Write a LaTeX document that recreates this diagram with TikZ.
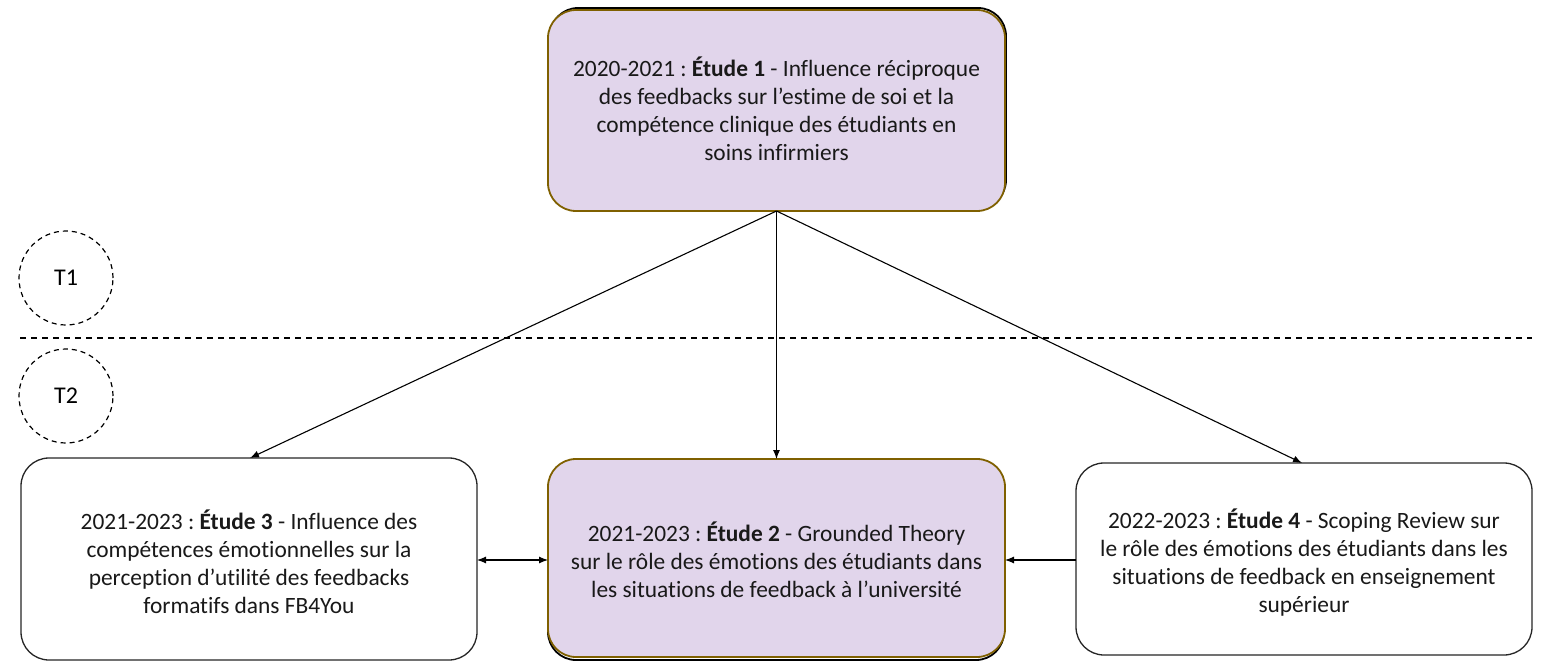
\documentclass[tikz,border=0pt]{standalone}
\usepackage{fontspec}
\setmainfont{Carlito}[Ligatures={NoCommon}]
\usetikzlibrary{arrows.meta}
\definecolor{lilac}{HTML}{E1D5EB}
\definecolor{olive}{HTML}{7F6000}
\begin{document}
\frenchspacing
\begin{tikzpicture}[x=1pt,y=-1pt,
  txt/.style={font=\frenchspacing\fontsize{23.4}{28}\selectfont, align=center, text=black!90},
  studybox/.style={draw=olive, line width=1.8pt, fill=lilac, rounded corners=28pt},
  plainbox/.style={draw=black!85, line width=1.3pt, fill=white, rounded corners=28pt},
  shadowbox/.style={draw=black, line width=1.8pt, rounded corners=28pt},
  tip/.style={},
  conn/.style={line width=1.1pt, -{Latex[length=9pt,width=7pt]}},
  tcircle/.style={circle, draw, line width=1.2pt, dash pattern=on 5pt off 4pt, minimum size=94pt, inner sep=0pt, font=\fontsize{24}{28}\selectfont}
]
\useasboundingbox (0,0) rectangle (1545,661);
% shadows
\draw[shadowbox] (550,8) rectangle (1006,208);
\draw[shadowbox] (548,462) rectangle (1004,660);
% boxes
\draw[studybox] (548,10) rectangle (1005,211);
\node[txt] (e1) at (776.5,109) {2020-2021 : \textbf{Étude 1} - Influence réciproque\\des feedbacks sur l’estime de soi et la\\compétence clinique des étudiants en\\soins infirmiers};
\coordinate (e1b) at (776.5,211);
\draw[studybox] (548,459) rectangle (1005,657);
\node[txt] (e2) at (776.5,560) {2021-2023 : \textbf{Étude 2} - Grounded Theory\\sur le rôle des émotions des étudiants dans\\les situations de feedback à l’université};
\draw[plainbox] (21,458) rectangle (477,660);
\node[txt] (e3) at (249,562) {2021-2023 : \textbf{Étude 3} - Influence des\\compétences émotionnelles sur la\\perception d’utilité des feedbacks\\formatifs dans FB4You};
\draw[plainbox] (1076,463) rectangle (1532,655);
\node[txt] (e4) at (1304,563) {2022-2023 : \textbf{Étude 4} - Scoping Review sur\\le rôle des émotions des étudiants dans les\\situations de feedback en enseignement\\supérieur};
% anchors
\coordinate (e2t) at (776.5,459);
\coordinate (e3t) at (250,458);
\coordinate (e4t) at (1302,463);
\coordinate (e3r) at (477,560);
\coordinate (e2l) at (548,560);
\coordinate (e2r) at (1005,560);
\coordinate (e4l) at (1076,560);
% T circles
\node[tcircle] (t1) at (66,278) {T1};
\node[tcircle] (t2) at (66,396) {T2};
\coordinate (dl) at (20,338);
\coordinate (dr) at (1532,338);
\draw[line width=1.1pt, dash pattern=on 6pt off 5pt] (dl) -- (dr);
% connectors
\draw[conn] (e1b) -- (e3t);
\draw[conn] (e1b) -- (e2t);
\draw[conn] (e1b) -- (e4t);
\draw[conn, {Latex[length=9pt,width=7pt]}-{Latex[length=9pt,width=7pt]}] (e3r) -- (e2l);
\draw[conn] (e4l) -- (e2r);
\end{tikzpicture}
\end{document}
